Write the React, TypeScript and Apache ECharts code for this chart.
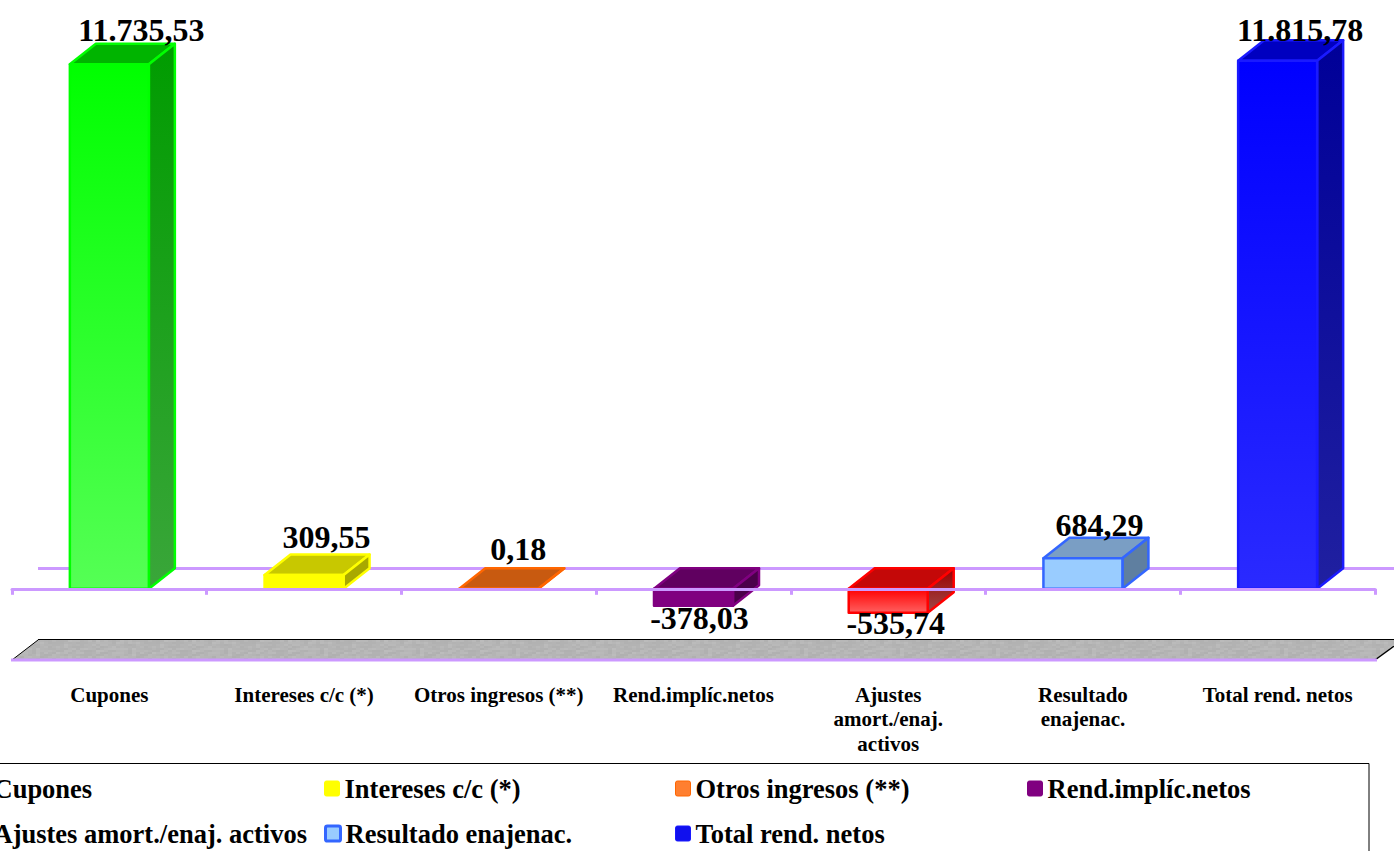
import React, { useEffect, useRef } from "react";
import * as echarts from "echarts";

const seriesNames = ["Cupones", "Intereses c/c (*)", "Otros ingresos (**)", "Rend.implíc.netos", "Ajustes amort./enaj. activos", "Resultado enajenac.", "Total rend. netos"];
const axisLabels = ["Cupones", "Intereses c/c (*)", "Otros ingresos (**)", "Rend.implíc.netos", "Ajustes\namort./enaj.\nactivos", "Resultado\nenajenac.", "Total rend. netos"];
const values = [11735.53, 309.55, 0.18, -378.03, -535.74, 684.29, 11815.78];

const strokeColors = ["#00ff00", "#ffff00", "#ff6600", "#800080", "#ff0000", "#3366ff", "#1a1aff"];
const frontTop = ["#00ff00", "#ffff00", "#ff6600", "#800080", "#ff0000", "#99ccff", "#0000ff"];
const frontBottom = ["#55ff55", "#ffff00", "#ff6600", "#800080", "#ff6060", "#99ccff", "#2a2aff"];
const topFaces = ["#00b400", "#c8c800", "#c85a10", "#600060", "#c40808", "#7a9ec4", "#0000c0"];
const sideTop = ["#009c00", "#a8a800", "#a04808", "#4a004a", "#9a0000", "#5f7fa0", "#000098"];
const sideBottom = ["#3aa63a", "#a8a800", "#a04808", "#4a004a", "#a04848", "#5f7fa0", "#2020a0"];
const legendFill = ["#00ff00", "#ffff00", "#ff7f30", "#800080", "#ff3030", "#99ccff", "#1010ee"];

const labelDx = [32, 22.5, 19.5, 6, 7.5, 16.5, 22.5];
const labelDy = [-34, -38, -40, 12, 10.6, -33, -30.5];
const legendLeft = [-27, 324, 675, 1027, -27, 324, 675];
const legendTop = [775, 775, 775, 775, 820, 820, 820];

const SERIF = "Liberation Serif";
const LINE = "#cc99ff";
const BAR_W = 79;
const DX = 26;
const DY = -20.5;
const ICON = "path://M2 0H14Q16 0 16 2V14Q16 16 14 16H2Q0 16 0 14V2Q0 0 2 0Z";

const fmt = (v: number) => {
  const [i, d] = Math.abs(v).toFixed(2).split(".");
  return (v < 0 ? "-" : "") + i.replace(/\B(?=(\d{3})+$)/g, ".") + "," + d;
};

// Grey stone texture of the floor: a fixed tile built from a hash of the cell position.
const floorTile = () => {
  const c = document.createElement("canvas");
  c.width = 96;
  c.height = 24;
  const ctx = c.getContext("2d")!;
  for (let y = 0; y < 24; y += 2) {
    for (let x = 0; x < 96; x += 4) {
      const h = Math.abs(Math.sin(x * 12.9898 + y * 78.233) * 43758.5453) % 1;
      const g = Math.round(176 + h * 12);
      ctx.fillStyle = `rgb(${g},${g},${g})`;
      ctx.fillRect(x, y, 4, 2);
    }
  }
  return c;
};

export default function App() {
  const ref = useRef<HTMLDivElement>(null);
  useEffect(() => {
    document.body.style.margin = "0";
    document.body.style.overflow = "hidden";
    const chart = echarts.init(ref.current!, undefined, { renderer: "svg" });

    const renderItem = (params: any, api: any) => {
      const i = api.value(0);
      const v = api.value(1);
      const cx = api.coord([i, 0])[0];
      const y0 = api.coord([i, 0])[1];
      const yv = api.coord([i, v])[1];
      const t = Math.min(y0, yv);
      const b = Math.max(y0, yv);
      const l = cx - BAR_W / 2;
      const r = cx + BAR_W / 2;
      const stroke = strokeColors[i];
      const grad = (a: string, c: string) =>
        new echarts.graphic.LinearGradient(0, 0, 0, 1, [
          { offset: 0, color: a },
          { offset: 1, color: c },
        ]);
      const face = (pts: number[][], fill: any) => ({
        type: "polygon",
        shape: { points: pts },
        style: { fill, stroke, lineWidth: 2.5, lineJoin: "round" },
      });
      return {
        type: "group",
        children: [
          face([[l, t], [l + DX, t + DY], [r + DX, t + DY], [r, t]], topFaces[i]),
          face([[r, t], [r + DX, t + DY], [r + DX, b + DY], [r, b]], grad(sideTop[i], sideBottom[i])),
          face([[l, t], [r, t], [r, b], [l, b]], grad(frontTop[i], frontBottom[i])),
          {
            type: "text",
            x: cx + labelDx[i],
            y: (v < 0 ? b : t) + labelDy[i],
            style: {
              text: fmt(v),
              fill: "#000",
              font: `bold 32px "${SERIF}"`,
              align: "center",
              verticalAlign: "middle",
            },
          },
        ],
      };
    };

    chart.setOption({
      animation: false,
      backgroundColor: "#fff",
      grid: { left: 12, width: 1363, top: 52.5, height: 581 },
      xAxis: {
        type: "category",
        data: axisLabels,
        z: 3,
        axisLine: { onZero: true, lineStyle: { color: LINE, width: 3 } },
        axisTick: { show: true, length: 6, lineStyle: { color: LINE, width: 3 } },
        axisLabel: {
          interval: 0,
          margin: 49,
          hideOverlap: false,
          color: "#000",
          fontFamily: SERIF,
          fontWeight: "bold",
          fontSize: 21,
          lineHeight: 24.5,
        },
      },
      yAxis: { type: "value", show: false, min: -1000, max: 12000, interval: 1000 },
      legend: seriesNames.map((name, i) => ({
        data: [
          {
            name,
            icon: ICON,
            itemStyle: { color: i === 5 ? frontBottom[i] : legendFill[i], borderColor: strokeColors[i], borderWidth: i === 5 ? 3 : 1 },
          },
        ],
        left: legendLeft[i],
        top: legendTop[i],
        padding: 0,
        itemWidth: 15,
        itemHeight: 16,
        selectedMode: false,
        textStyle: { color: "#000", fontFamily: SERIF, fontWeight: "bold", fontSize: 26.5 },
      })),
      series: seriesNames.map((name, i) => ({
        type: "custom",
        name,
        coordinateSystem: "cartesian2d",
        silent: true,
        itemStyle: { color: frontBottom[i] },
        encode: { x: 0, y: 1 },
        data: [[i, values[i]]],
        renderItem,
      })),
      graphic: [
        {
          type: "polygon",
          silent: true,
          z: 0,
          shape: { points: [[12, 660], [38, 640], [1400, 640], [1375, 660]] },
          style: { fill: { image: floorTile(), repeat: "repeat" } },
        },
        { type: "line", silent: true, z: 1, shape: { x1: 38, y1: 639.5, x2: 1394, y2: 639.5 }, style: { stroke: "#000", lineWidth: 1 } },
        { type: "line", silent: true, z: 1, shape: { x1: 12, y1: 660, x2: 38, y2: 640 }, style: { stroke: "#000", lineWidth: 1 } },
        { type: "line", silent: true, z: 1, shape: { x1: 1375, y1: 660, x2: 1394, y2: 646 }, style: { stroke: "#000", lineWidth: 1.5 } },
        { type: "line", silent: true, z: 1, shape: { x1: 11, y1: 660, x2: 1377, y2: 660 }, style: { stroke: LINE, lineWidth: 3 } },
        { type: "line", silent: true, z: 1, shape: { x1: 38, y1: 568.5, x2: 1394, y2: 568.5 }, style: { stroke: LINE, lineWidth: 3 } },
        { type: "rect", silent: true, z: 1, shape: { x: -20, y: 763.5, width: 1389, height: 120 }, style: { fill: "none", stroke: "#000", lineWidth: 1 } },
      ],
    });
    return () => chart.dispose();
  }, []);
  return <div ref={ref} style={{ position: "fixed", left: 0, top: 0, width: 1394, height: 851 }} />;
}
